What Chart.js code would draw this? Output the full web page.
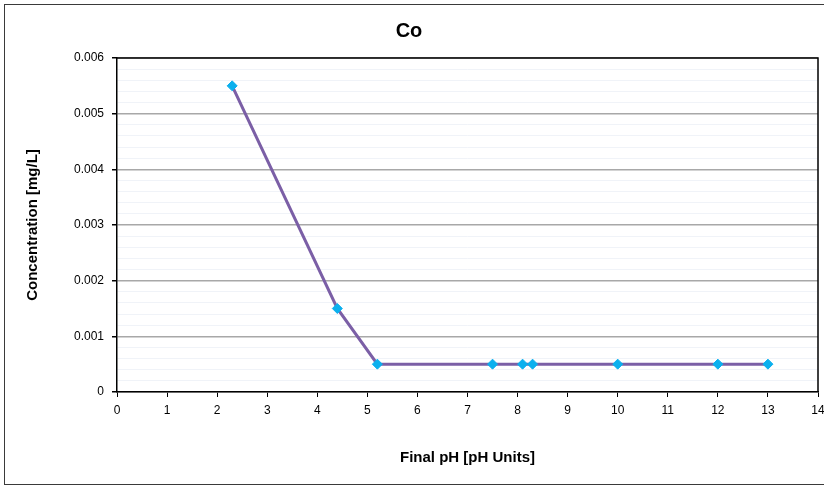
<!DOCTYPE html>
<html>
<head>
<meta charset="utf-8">
<script src="https://cdn.jsdelivr.net/npm/chart.js@4/dist/chart.umd.min.js"></script>
<style>
    html, body { margin: 0; padding: 0; background: #fff; }
    #wrap { width: 824px; height: 487px; position: relative; }
</style>
</head>
<body>
<div id="wrap"><canvas id="coChart"></canvas></div>
<script>
'use strict';

// ===== DONNÉES =====
const phValues = [2.3, 4.4, 5.2, 7.5, 8.1, 8.3, 10, 12, 13];
const coConcentration = [0.0055, 0.0015, 0.0005, 0.0005, 0.0005, 0.0005, 0.0005, 0.0005, 0.0005];
const chartTitle = 'Co';
const xAxisTitle = 'Final pH [pH Units]';
const yAxisTitle = 'Concentration [mg/L]';

const points = phValues.map(function(x, i) {
    return { x: x, y: coConcentration[i] };
});

// cadre autour du graphique + cadre du tracé
const frames = {
    id: 'frames',
    beforeDraw: function(chart) {
        const ctx = chart.ctx;
        ctx.save();
        ctx.fillStyle = '#fff';
        ctx.fillRect(0, 0, chart.width, chart.height);
        ctx.strokeStyle = '#3a3a3a';
        ctx.lineWidth = 1;
        ctx.strokeRect(4.5, 4.5, 830, 480);
        ctx.restore();
    },
    beforeDatasetsDraw: function(chart) {
        const a = chart.chartArea;
        const ctx = chart.ctx;
        ctx.save();
        ctx.strokeStyle = '#000';
        ctx.lineWidth = 1.5;
        ctx.beginPath();
        ctx.moveTo(a.left, a.top);
        ctx.lineTo(a.right, a.top);
        ctx.lineTo(a.right, a.bottom);
        ctx.stroke();
        ctx.restore();
    }
};

const font = "'Liberation Sans', Arial, sans-serif";

new Chart(document.getElementById('coChart'), {
    type: 'scatter',
    data: {
        datasets: [{
            data: points,
            showLine: true,
            borderColor: '#7b5fa6',
            borderWidth: 3,
            pointStyle: 'rectRot',
            pointRadius: 5,
            pointHoverRadius: 5,
            pointBackgroundColor: '#0bb0ee',
            pointBorderColor: '#0bb0ee',
            pointBorderWidth: 1
        }]
    },
    options: {
        responsive: true,
        maintainAspectRatio: false,
        animation: false,
        layout: { padding: { left: 0, right: 6, top: 0, bottom: 0 } },
        plugins: {
            legend: { display: false },
            tooltip: { enabled: false },
            title: {
                display: true,
                text: chartTitle,
                color: '#000',
                font: { family: font, size: 20, weight: 'bold' },
                padding: { top: 19, bottom: 15 }
            }
        },
        scales: {
            x: {
                type: 'linear',
                min: 0,
                max: 14,
                afterFit: function(scale) {
                    scale.height = 95;
                    scale.paddingLeft = 0;
                    scale.paddingRight = 0;
                },
                ticks: {
                    stepSize: 1,
                    color: '#000',
                    padding: 6,
                    font: { family: font, size: 12 }
                },
                grid: {
                    drawOnChartArea: false,
                    drawTicks: true,
                    tickLength: 5,
                    tickColor: '#000'
                },
                border: { color: '#000', width: 1.5 },
                title: {
                    display: true,
                    text: xAxisTitle,
                    color: '#000',
                    font: { family: font, size: 15, weight: 'bold' },
                    padding: { top: 0, bottom: 20 }
                }
            },
            y: {
                min: 0,
                max: 0.006,
                afterFit: function(scale) {
                    scale.width = 117;
                },
                ticks: {
                    stepSize: 0.0002,
                    autoSkip: false,
                    maxTicksLimit: 100,
                    color: '#000',
                    padding: 8,
                    font: { family: font, size: 12 },
                    callback: function(value, index) {
                        if (index % 5 !== 0) return '';
                        return String(Number(value.toFixed(4)));
                    }
                },
                grid: {
                    drawTicks: true,
                    tickLength: 5,
                    color: function(ctx) {
                        return ctx.index % 5 === 0 ? '#a8a8a8' : '#f0f3f8';
                    },
                    tickColor: function(ctx) {
                        return ctx.index % 5 === 0 ? '#000' : 'rgba(0,0,0,0)';
                    },
                    lineWidth: function(ctx) {
                        return ctx.index % 5 === 0 ? 1.5 : 1;
                    }
                },
                border: { color: '#000', width: 1.5 },
                title: {
                    display: true,
                    text: yAxisTitle,
                    color: '#000',
                    font: { family: font, size: 15, weight: 'bold' },
                    padding: { top: 24, bottom: 0 }
                }
            }
        }
    },
    plugins: [frames]
});
</script>
</body>
</html>
